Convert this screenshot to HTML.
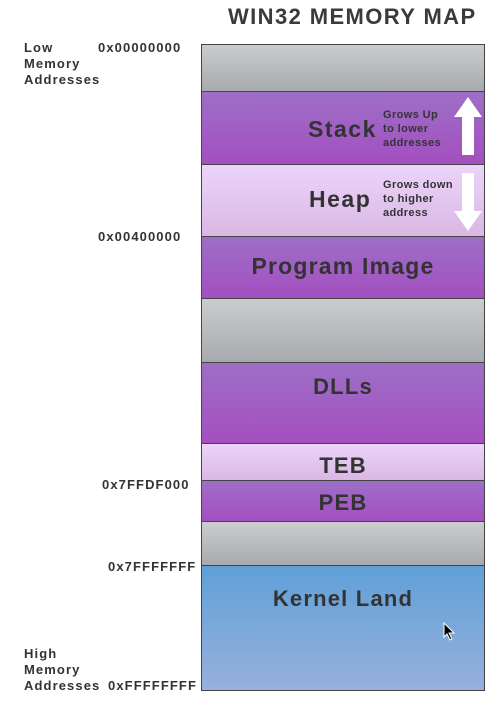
<!DOCTYPE html>
<html><head><style>
body{margin:0;width:502px;height:707px;background:#fff;font-family:"Liberation Sans",sans-serif;font-weight:bold;color:#333;position:relative;overflow:hidden}
.t{position:absolute;white-space:nowrap}
.b{position:absolute;left:201px;width:282px;border:1px solid #444;box-sizing:content-box}
.c{position:absolute;left:0;right:0;text-align:center;font-size:22px;letter-spacing:1.2px}
.gray{background:linear-gradient(#cbcccd,#a7aaae)}
.pur{background:linear-gradient(#9d6fc6,#a44fc0)}
.lil{background:linear-gradient(#ecd4fb,#d9b8e3)}
.s{font-size:11px;line-height:14px;letter-spacing:0.4px}
.lbl{font-size:13px;line-height:16px;letter-spacing:1.1px}
</style></head><body>
<div class="t" style="left:228px;top:4px;font-size:22px;color:#3a3a3a;letter-spacing:1.4px">WIN32 MEMORY MAP</div>
<div class="t lbl" style="left:24px;top:40px">Low<br>Memory<br>Addresses</div>
<div class="t lbl" style="left:98px;top:40px">0x00000000</div>
<div class="t lbl" style="left:98px;top:229px">0x00400000</div>
<div class="t lbl" style="left:102px;top:477px">0x7FFDF000</div>
<div class="t lbl" style="left:108px;top:559px">0x7FFFFFFF</div>
<div class="t lbl" style="left:24px;top:646px">High<br>Memory<br>Addresses</div>
<div class="t lbl" style="left:108px;top:678px">0xFFFFFFFF</div>

<div class="b gray" style="top:44px;height:46px"></div>
<div class="b pur" style="top:91px;height:72px">
 <div class="t" style="left:106px;top:24px;font-size:23px;letter-spacing:1.5px">Stack</div>
 <div class="t s" style="left:181px;top:16px">Grows Up<br>to lower<br>addresses</div>
 <svg style="position:absolute;left:252px;top:5px" width="28" height="60"><polygon points="14,0 28,20 20,20 20,58 8,58 8,20 0,20" fill="#fff"/></svg>
</div>
<div class="b lil" style="top:164px;height:71px">
 <div class="t" style="left:107px;top:21px;font-size:23px;letter-spacing:1.5px">Heap</div>
 <div class="t s" style="left:181px;top:13px">Grows down<br>to higher<br>address</div>
 <svg style="position:absolute;left:252px;top:8px" width="28" height="60"><polygon points="8,0 20,0 20,38 28,38 14,58 0,38 8,38" fill="#fff"/></svg>
</div>
<div class="b pur" style="top:236px;height:61px"><div class="c" style="top:16px;font-size:23px">Program Image</div></div>
<div class="b gray" style="top:298px;height:63px"></div>
<div class="b pur" style="top:362px;height:80px"><div class="c" style="top:11px">DLLs</div></div>
<div class="b lil" style="top:443px;height:36px"><div class="c" style="top:9px">TEB</div></div>
<div class="b pur" style="top:480px;height:40px"><div class="c" style="top:9px">PEB</div></div>
<div class="b gray" style="top:521px;height:43px"></div>
<div class="b" style="top:565px;height:124px;background:linear-gradient(#5fa0d8,#98b0dc)"><div class="c" style="top:20px">Kernel Land</div>
 <svg style="position:absolute;left:241px;top:56px" width="14" height="20"><polygon points="1,1 1,15 4,12 7,18 9,17 6,11 11,11" fill="#000" stroke="#fff" stroke-width="1"/></svg>
</div>
</body></html>
